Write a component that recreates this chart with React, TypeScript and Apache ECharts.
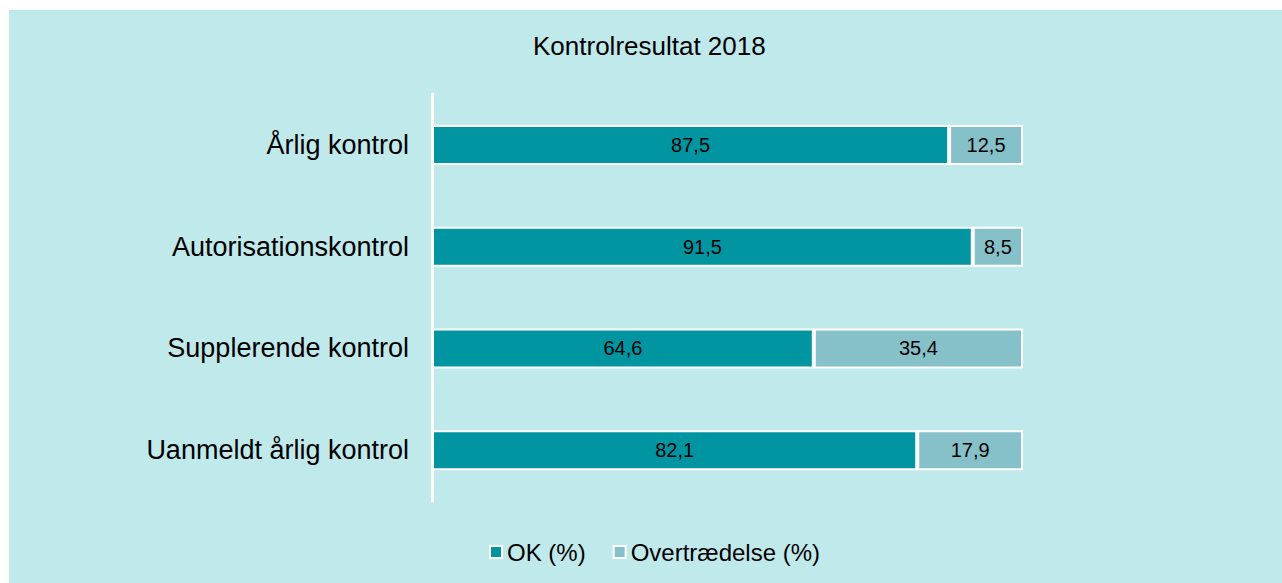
import React, { useEffect, useRef } from "react";
import * as echarts from "echarts";

const categories = [
  "Årlig kontrol",
  "Autorisationskontrol",
  "Supplerende kontrol",
  "Uanmeldt årlig kontrol",
];
const okValues = [87.5, 91.5, 64.6, 82.1];
const violationValues = [12.5, 8.5, 35.4, 17.9];
const seriesNames = ["OK (%)", "Overtrædelse (%)"];
const titleText = "Kontrolresultat 2018";

const FONT = "'Liberation Sans', Arial, sans-serif";

export default function App() {
  const ref = useRef<HTMLDivElement>(null);
  useEffect(() => {
    if (!ref.current) return;
    const chart = echarts.init(ref.current, undefined, { renderer: "svg" });
    const fmt = (p: any) => Number(p.value).toFixed(1).replace(".", ",");
    chart.setOption({
      animation: false,
      backgroundColor: "#C0E9EC",
      textStyle: { fontFamily: FONT },
      title: {
        text: titleText,
        left: 519,
        top: 18,
        textStyle: {
          fontFamily: FONT,
          fontSize: 26,
          fontWeight: "normal",
          color: "#000",
        },
      },
      legend: {
        data: seriesNames,
        icon: "rect",
        left: 475,
        top: 525,
        itemWidth: 12,
        itemHeight: 12,
        itemGap: 27,
        textStyle: { fontFamily: FONT, fontSize: 24, color: "#000" },
      },
      grid: { left: 423, top: 84, width: 591, height: 407, containLabel: false },
      xAxis: {
        type: "value",
        min: 0,
        max: 100,
        show: false,
        splitLine: { show: false },
      },
      yAxis: {
        type: "category",
        data: categories,
        inverse: true,
        axisLine: { show: true, lineStyle: { color: "#FFFFFF", width: 3 } },
        axisTick: { show: false },
        splitLine: { show: false },
        axisLabel: {
          margin: 23,
          fontFamily: FONT,
          fontSize: 27,
          color: "#000",
        },
      },
      series: [
        {
          name: seriesNames[0],
          type: "bar",
          stack: "total",
          data: okValues,
          barWidth: 40,
          itemStyle: { color: "#0095A0", borderColor: "#FFFFFF", borderWidth: 2 },
          label: {
            show: true,
            position: "inside",
            formatter: fmt,
            fontFamily: FONT,
            fontSize: 20,
            color: "#000",
          },
        },
        {
          name: seriesNames[1],
          type: "bar",
          stack: "total",
          data: violationValues,
          barWidth: 40,
          itemStyle: { color: "#86C1C9", borderColor: "#FFFFFF", borderWidth: 2 },
          label: {
            show: true,
            position: "inside",
            formatter: fmt,
            fontFamily: FONT,
            fontSize: 20,
            color: "#000",
          },
        },
      ],
    });
    return () => chart.dispose();
  }, []);
  return (
    <div
      ref={ref}
      style={{ position: "absolute", left: 9, top: 10, width: 1273, height: 573 }}
    />
  );
}
